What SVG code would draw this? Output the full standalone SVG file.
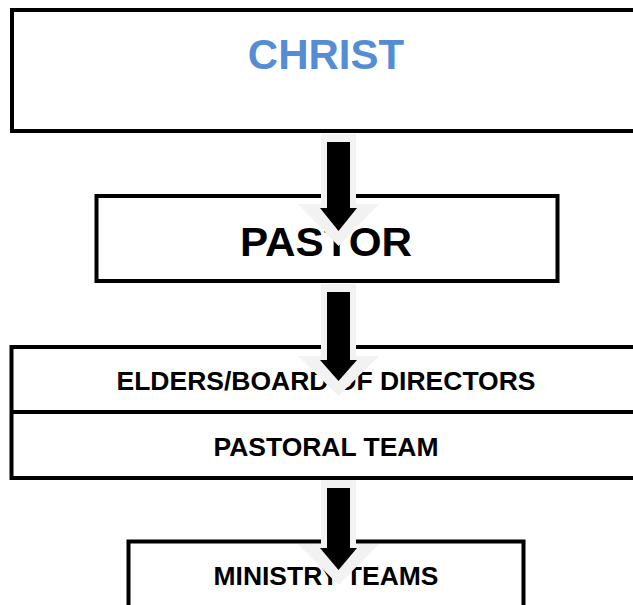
<svg xmlns="http://www.w3.org/2000/svg" width="633" height="605" viewBox="0 0 633 605">
<style>
.box{fill:#fff;stroke:#000;stroke-width:4}
.t{font-family:"Liberation Sans",Arial,sans-serif;font-weight:bold;text-anchor:middle;fill:#000}
.halo{fill:#f2f2f2}
.arr{fill:#000}
</style>
<rect width="633" height="605" fill="#fff"/>
<g id="christ">
<rect class="box" x="12" y="10" width="640" height="121"/>
<text class="t" x="326" y="69" font-size="42" style="fill:#548dd4">CHRIST</text>
</g>
<g id="pastor">
<rect class="box" x="96.5" y="196" width="461" height="85" stroke-width="3.5"/>
<text class="t" x="326" y="256" font-size="41" textLength="172" lengthAdjust="spacingAndGlyphs">PASTOR</text>
</g>
<g id="elders">
<rect class="box" x="11.5" y="347" width="640" height="131"/>
<line x1="11.5" y1="412" x2="633" y2="412" stroke="#000" stroke-width="4"/>
<text class="t" x="326" y="390" font-size="25" textLength="419" lengthAdjust="spacingAndGlyphs">ELDERS/BOARD OF DIRECTORS</text>
<text class="t" x="326" y="456" font-size="25" textLength="225" lengthAdjust="spacingAndGlyphs">PASTORAL TEAM</text>
</g>
<g id="ministry">
<rect class="box" x="128.5" y="541.5" width="395" height="100" stroke-width="3.5"/>
<text class="t" x="326" y="585" font-size="25" textLength="225" lengthAdjust="spacingAndGlyphs">MINISTRY TEAMS</text>
</g>
<g id="connectors">
<rect class="halo" x="321" y="134" width="35" height="72"/>
<polygon class="halo" points="298,204 379,204 338.5,246"/>
<rect class="arr" x="327" y="142" width="23" height="67"/>
<polygon class="arr" points="320,208 357,208 338.5,231"/>
<rect class="halo" x="321" y="284" width="35" height="74"/>
<polygon class="halo" points="298,356 379,356 338.5,396"/>
<rect class="arr" x="327" y="292" width="23" height="69"/>
<polygon class="arr" points="320,360 357,360 338.5,381"/>
<rect class="halo" x="321" y="480" width="35" height="66"/>
<polygon class="halo" points="298,544 379,544 338.5,585"/>
<rect class="arr" x="327" y="488" width="23" height="61"/>
<polygon class="arr" points="320,548 357,548 338.5,570"/>
</g>
</svg>
